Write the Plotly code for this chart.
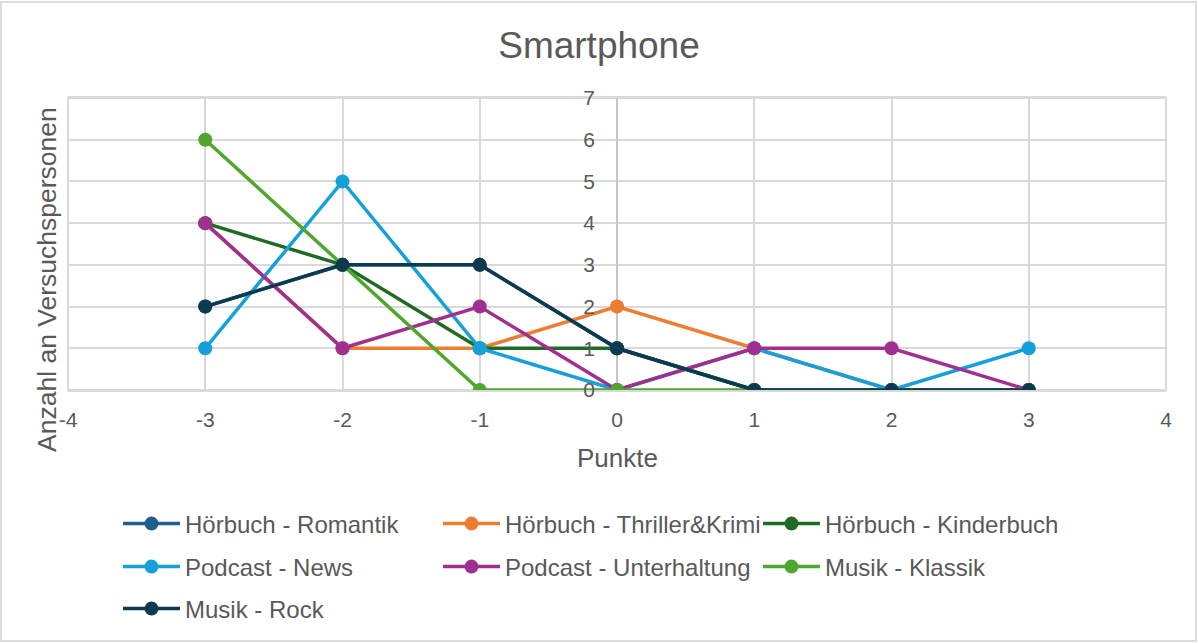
import plotly.graph_objects as go

x_points = [-3, -2, -1, 0, 1, 2, 3]

series_names = [
    "Hörbuch - Romantik",
    "Hörbuch - Thriller&Krimi",
    "Hörbuch - Kinderbuch",
    "Podcast - News",
    "Podcast - Unterhaltung",
    "Musik - Klassik",
    "Musik - Rock",
]

romantik = [2, 3, 3, 1, 0, 0, 0]
thriller = [4, 1, 1, 2, 1, 0, 0]
kinderbuch = [4, 3, 1, 1, 0, 0, 0]
news = [1, 5, 1, 0, 1, 0, 1]
unterhaltung = [4, 1, 2, 0, 1, 1, 0]
klassik = [6, 3, 0, 0, 0, 0, 0]
rock = [2, 3, 3, 1, 0, 0, 0]

series_values = [romantik, thriller, kinderbuch, news, unterhaltung, klassik, rock]
colors = ["#1f5f8c", "#ed7d31", "#1f6b26", "#16a0da", "#a0308f", "#4fa72f", "#0c3a50"]
legend_rows = ["legend", "legend", "legend", "legend2", "legend2", "legend2", "legend3"]

x_ticks = [-4, -3, -2, -1, 0, 1, 2, 3, 4]
x_tick_labels = ["-4", "-3", "-2", "-1", "0", "1", "2", "3", "4"]
y_ticks = [0, 1, 2, 3, 4, 5, 6, 7]
y_tick_labels = ["0", "1", "2", "3", "4", "5", "6", "7"]

title_text = "Smartphone"
x_title = "Punkte"
y_title = "Anzahl an Versuchspersonen"

FONT = "Liberation Sans, Arial, sans-serif"
TXT = "#595959"
GRID = "#d9d9d9"

W, H = 1198, 643
ML, MR, MT, MB = 68, 32, 98, 253
PW = W - ML - MR
PH = H - MT - MB

fig = go.Figure()
for name, vals, col, lg in zip(series_names, series_values, colors, legend_rows):
    fig.add_trace(go.Scatter(
        x=x_points, y=vals, name=name, mode="lines+markers",
        line=dict(color=col, width=3.5),
        marker=dict(color=col, size=14),
        legend=lg,
    ))

legend_common = dict(
    orientation="h", entrywidth=248, entrywidthmode="pixels",
    itemwidth=57, font=dict(family=FONT, size=24, color=TXT),
    bgcolor="rgba(0,0,0,0)", xref="paper", yref="container",
    x=(128 - ML - 10) / PW, xanchor="left", yanchor="middle",
)
fig.update_layout(
    legend=dict(legend_common, y=1 - 524 / H),
    legend2=dict(legend_common, y=1 - 567 / H),
    legend3=dict(legend_common, y=1 - 609 / H),
)

fig.update_layout(
    width=W, height=H,
    margin=dict(l=ML, r=MR, t=MT, b=MB),
    paper_bgcolor="white", plot_bgcolor="white",
    font=dict(family=FONT, color=TXT),
    title=dict(text=title_text, x=0.5, xanchor="center", y=1 - 45 / H, yanchor="middle",
               font=dict(family=FONT, size=37, color=TXT)),
    xaxis=dict(range=[-4, 4], tickvals=x_ticks, ticktext=x_tick_labels,
               showgrid=True, gridcolor=GRID, gridwidth=2,
               zeroline=True, zerolinecolor="#c8c8c8", zerolinewidth=2,
               showline=True, mirror=True, linecolor=GRID, linewidth=2,
               tickfont=dict(family=FONT, size=21, color=TXT), ticks="", ticklabelstandoff=10),
    yaxis=dict(range=[0, 7], tickvals=y_ticks, ticktext=y_tick_labels,
               showgrid=True, gridcolor=GRID, gridwidth=2,
               zeroline=True, zerolinecolor="#c8c8c8", zerolinewidth=2,
               anchor="free", position=0.5, showline=False,
               tickfont=dict(family=FONT, size=21, color=TXT), ticks="", ticklabelstandoff=22),
    annotations=[
        dict(text=x_title, xref="paper", yref="paper", x=0.5, y=-(458 - MT - PH) / PH,
             xanchor="center", yanchor="middle", showarrow=False,
             font=dict(family=FONT, size=26, color=TXT)),
        dict(text=y_title, xref="paper", yref="paper", x=(47 - ML) / PW, y=(MT + PH - 280) / PH,
             xanchor="center", yanchor="middle", textangle=-90, showarrow=False,
             font=dict(family=FONT, size=26.5, color=TXT)),
    ],
    shapes=[
        dict(type="rect", xref="paper", yref="paper", x0=0, x1=1, y0=0, y1=1,
             line=dict(color=GRID, width=2), layer="below"),
        dict(type="rect", xref="paper", yref="paper",
             x0=-(ML - 1) / PW, x1=(W - ML - 2) / PW, y0=-(MB - 2) / PH, y1=1 + (MT - 2) / PH,
             line=dict(color="#dcdcdc", width=2), layer="below"),
    ],
)

fig.write_html(
    "out.html",
    config={"displayModeBar": False},
    post_script="document.body.style.margin='0';document.body.style.overflow='hidden';",
)
